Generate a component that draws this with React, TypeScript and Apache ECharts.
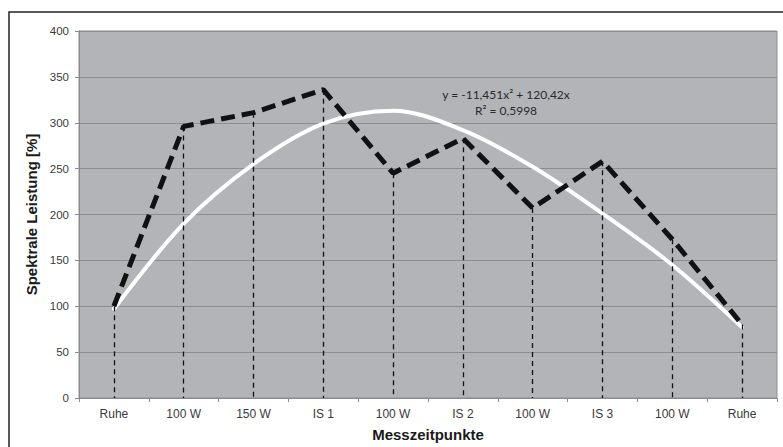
import React, { useEffect, useRef } from "react";
import * as echarts from "echarts";

const categories = ["Ruhe", "100 W", "150 W", "IS 1", "100 W", "IS 2", "100 W", "IS 3", "100 W", "Ruhe"];
const measured = [100, 296, 311, 336, 245, 283, 207, 258, 173, 80];
const trend = [97, 190, 255, 299, 313, 292, 252, 201, 145, 77];
const yTicks = { min: 0, max: 400, interval: 50 };
const equationLines = ["y = -11,451x² + 120,42x", "R² = 0,5998"];

export default function App() {
  const ref = useRef<HTMLDivElement>(null);
  useEffect(() => {
    if (!ref.current) return;
    const chart = echarts.init(ref.current, undefined, { renderer: "svg" });
    const dropLines = measured.map((v, i) => [
      { coord: [i, v] },
      { coord: [i, 0] },
    ]);
    chart.setOption({
      animation: false,
      backgroundColor: "#ffffff",
      grid: {
        left: 79,
        top: 31,
        right: 6,
        bottom: 46,
        show: true,
        backgroundColor: "#b3b4b7",
        borderColor: "#8e8f91",
        borderWidth: 1,
      },
      xAxis: {
        type: "category",
        data: categories,
        boundaryGap: true,
        name: "Messzeitpunkte",
        nameLocation: "middle",
        nameGap: 29,
        nameTextStyle: { fontFamily: "Liberation Sans", fontSize: 15, fontWeight: "bold", color: "#1a1a1a" },
        axisLine: { show: true, lineStyle: { color: "#8a8a8a", width: 1 } },
        axisTick: { show: true, length: 4, lineStyle: { color: "#8a8a8a" } },
        axisLabel: { margin: 10, fontFamily: "Liberation Sans", fontSize: 12, color: "#3a3a3a" },
        splitLine: { show: false },
      },
      yAxis: {
        type: "value",
        min: yTicks.min,
        max: yTicks.max,
        interval: yTicks.interval,
        name: "Spektrale Leistung [%]",
        nameLocation: "middle",
        nameGap: 40,
        nameTextStyle: { fontFamily: "Liberation Sans", fontSize: 15, fontWeight: "bold", color: "#1a1a1a" },
        axisLine: { show: true, lineStyle: { color: "#8a8a8a", width: 1 } },
        axisTick: { show: true, length: 4, lineStyle: { color: "#8a8a8a" } },
        axisLabel: { margin: 10, fontFamily: "Liberation Sans", fontSize: 11.5, color: "#3a3a3a" },
        splitLine: { show: true, lineStyle: { color: "#8c8d8f", width: 1 } },
      },
      graphic: [
        {
          type: "rect",
          shape: { x: 9, y: 12, width: 820, height: 500 },
          style: { fill: "none", stroke: "#222222", lineWidth: 1.5 },
          silent: true,
        },
        {
          type: "text",
          x: 506,
          y: 94,
          style: {
            text: equationLines[0],
            fontFamily: "Lato",
            fontSize: 12,
            fill: "#2a2a2a",
            align: "center",
            verticalAlign: "middle",
          },
          z: 10,
        },
        {
          type: "text",
          x: 506,
          y: 110,
          style: {
            text: equationLines[1],
            fontFamily: "Lato",
            fontSize: 12,
            fill: "#2a2a2a",
            align: "center",
            verticalAlign: "middle",
          },
          z: 10,
        },
      ],
      series: [
        {
          name: "Trend",
          type: "line",
          data: trend,
          smooth: 0.33,
          symbol: "none",
          lineStyle: { color: "#ffffff", width: 4, cap: "round" },
          z: 2,
        },
        {
          name: "Messwerte",
          type: "line",
          data: measured,
          symbol: "none",
          lineStyle: { color: "#111111", width: 5, type: [14, 7], cap: "butt" },
          z: 3,
          markLine: {
            silent: true,
            symbol: "none",
            label: { show: false },
            lineStyle: { color: "#111111", width: 1.3, type: [5, 4] },
            data: dropLines,
          },
        },
      ],
    });
    return () => chart.dispose();
  }, []);
  return (
    <div
      ref={ref}
      style={{ position: "absolute", left: 0, top: 0, width: 783, height: 447 }}
    />
  );
}
